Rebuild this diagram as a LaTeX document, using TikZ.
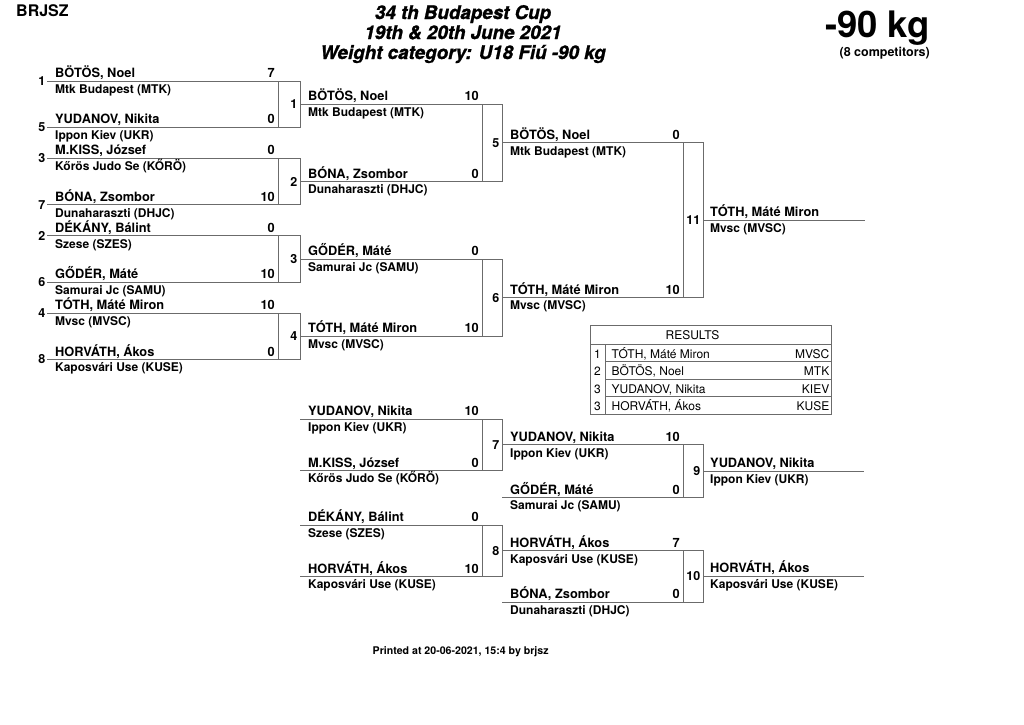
\documentclass[tikz,border=0pt]{standalone}
\usepackage{fontspec}
\setmainfont{TeX Gyre Heros}
\newfontfamily\ttlfont{TeX Gyre Heros}[BoldItalicFeatures={FakeBold=1.2}]
\definecolor{lin}{gray}{0.42}
\tikzset{
 bline/.style={draw=lin,line width=0.9pt},
 pname/.style={anchor=base west,inner sep=0pt,font=\bfseries\fontsize{12.8}{14}\selectfont},
 pscore/.style={anchor=base east,inner sep=0pt,font=\bfseries\fontsize{12.8}{14}\selectfont},
 pclub/.style={anchor=base west,inner sep=0pt,font=\bfseries\fontsize{12}{14}\selectfont},
 mnum/.style={anchor=east,inner sep=0pt,font=\bfseries\fontsize{12.5}{14}\selectfont},
 seednum/.style={anchor=east,inner sep=0pt,font=\bfseries\fontsize{12.5}{14}\selectfont},
 rtxt/.style={inner sep=0pt,font=\fontsize{12}{14}\selectfont},
 ttl/.style={anchor=base,inner sep=0pt,font=\ttlfont\bfseries\itshape\fontsize{18.8}{20}\selectfont},
}
% id, x1, box left, x2, y, name, score, club
\newcommand\plline[8]{%
 \coordinate (#1s) at (#2,#5);
 \coordinate (#1e) at (#4,#5);
 \draw[bline] (#1s) -- (#1e);
 \node[pname] (#1n) at (#2+8,#5-3.5) {#6};
 \node[pscore] (#1p) at (#3-3,#5-3.5) {#7};
 \node[pclub] (#1k) at (#2+8,#5+12.3) {#8};
}
% id, x1, x2, y, name, club
\newcommand\winline[6]{%
 \coordinate (#1s) at (#2,#4);
 \coordinate (#1e) at (#3,#4);
 \draw[bline] (#1s) -- (#1e);
 \node[pname] (#1n) at (#2+7,#4-3.5) {#5};
 \node[pclub] (#1k) at (#2+7,#4+12.3) {#6};
}
% id, xl, xr, ytop, ybot, number
\newcommand\matchbx[6]{%
 \coordinate (#1tl) at (#2,#4);
 \coordinate (#1br) at (#3,#5);
 \draw[bline] (#1tl) rectangle (#1br);
 \node[mnum] (#1) at (#3-2.5,{(#4+#5)/2}) {#6};
}
\begin{document}
\begin{tikzpicture}[x=1pt,y=-1pt]
\fill[white] (0,0) rectangle (1024,724);
\useasboundingbox (0,0) rectangle (1024,724);

% header
\node[anchor=west,inner sep=0pt,font=\bfseries\fontsize{16}{18}\selectfont] (org) at (16,11) {BRJSZ};
\node[ttl] (t1) at (463,19) {34 th Budapest Cup};
\node[ttl] (t2) at (463,39) {19th \& 20th June 2021};
\node[ttl] (t3) at (463,59) {Weight category: U18 Fiú -90 kg};
\node[anchor=base east,inner sep=0pt,font=\bfseries\fontsize{36.5}{38}\selectfont] (wcat) at (930,37) {-90 kg};
\node[anchor=base east,inner sep=0pt,font=\bfseries\fontsize{12.5}{14}\selectfont] (ncomp) at (930,56) {(8 competitors)};

% round 1
\plline{p1}{47}{278}{300}{81}{BÖTÖS, Noel}{7}{Mtk Budapest (MTK)}
\plline{p2}{47}{278}{300}{127.3}{YUDANOV, Nikita}{0}{Ippon Kiev (UKR)}
\plline{p3}{47}{278}{300}{158.4}{M.KISS, József}{0}{Kőrös Judo Se (KŐRÖ)}
\plline{p4}{47}{278}{300}{204.7}{BÓNA, Zsombor}{10}{Dunaharaszti (DHJC)}
\plline{p5}{47}{278}{300}{235.8}{DÉKÁNY, Bálint}{0}{Szese (SZES)}
\plline{p6}{47}{278}{300}{282.1}{GŐDÉR, Máté}{10}{Samurai Jc (SAMU)}
\plline{p7}{47}{278}{300}{313.2}{TÓTH, Máté Miron}{10}{Mvsc (MVSC)}
\plline{p8}{47}{278}{300}{359.5}{HORVÁTH, Ákos}{0}{Kaposvári Use (KUSE)}
\node[seednum] (s1) at (45.5,81) {1};
\node[seednum] (s5) at (45.5,127.3) {5};
\node[seednum] (s3) at (45.5,158.4) {3};
\node[seednum] (s7) at (45.5,204.7) {7};
\node[seednum] (s2) at (45.5,235.8) {2};
\node[seednum] (s6) at (45.5,282.1) {6};
\node[seednum] (s4) at (45.5,313.2) {4};
\node[seednum] (s8) at (45.5,359.5) {8};
\matchbx{m1}{278}{300}{81}{127.3}{1}
\matchbx{m2}{278}{300}{158.4}{204.7}{2}
\matchbx{m3}{278}{300}{235.8}{282.1}{3}
\matchbx{m4}{278}{300}{313.2}{359.5}{4}

% round 2
\plline{q1}{300}{482}{502}{104.15}{BÖTÖS, Noel}{10}{Mtk Budapest (MTK)}
\plline{q2}{300}{482}{502}{181.55}{BÓNA, Zsombor}{0}{Dunaharaszti (DHJC)}
\plline{q3}{300}{482}{502}{258.95}{GŐDÉR, Máté}{0}{Samurai Jc (SAMU)}
\plline{q4}{300}{482}{502}{336.35}{TÓTH, Máté Miron}{10}{Mvsc (MVSC)}
\matchbx{m5}{482}{502}{104.15}{181.55}{5}
\matchbx{m6}{482}{502}{258.95}{336.35}{6}

% round 3 and final
\plline{r1}{502}{683}{703}{142.85}{BÖTÖS, Noel}{0}{Mtk Budapest (MTK)}
\plline{r2}{502}{683}{703}{297.65}{TÓTH, Máté Miron}{10}{Mvsc (MVSC)}
\matchbx{m11}{683}{703}{142.85}{297.65}{11}
\winline{f1}{703}{865}{220.25}{TÓTH, Máté Miron}{Mvsc (MVSC)}

% repechage
\plline{u1}{300}{482}{502}{419}{YUDANOV, Nikita}{10}{Ippon Kiev (UKR)}
\plline{u2}{300}{482}{502}{470.5}{M.KISS, József}{0}{Kőrös Judo Se (KŐRÖ)}
\plline{u3}{300}{482}{502}{525}{DÉKÁNY, Bálint}{0}{Szese (SZES)}
\plline{u4}{300}{482}{502}{576.5}{HORVÁTH, Ákos}{10}{Kaposvári Use (KUSE)}
\matchbx{m7}{482}{502}{419}{470.5}{7}
\matchbx{m8}{482}{502}{525}{576.5}{8}
\plline{v1}{502}{683}{703}{444.75}{YUDANOV, Nikita}{10}{Ippon Kiev (UKR)}
\plline{v2}{502}{683}{703}{497.5}{GŐDÉR, Máté}{0}{Samurai Jc (SAMU)}
\plline{v3}{502}{683}{703}{550.75}{HORVÁTH, Ákos}{7}{Kaposvári Use (KUSE)}
\plline{v4}{502}{683}{703}{602}{BÓNA, Zsombor}{0}{Dunaharaszti (DHJC)}
\matchbx{m9}{683}{703}{444.75}{497.5}{9}
\matchbx{m10}{683}{703}{550.75}{602}{10}
\winline{w1}{703}{864}{471.1}{YUDANOV, Nikita}{Ippon Kiev (UKR)}
\winline{w2}{703}{864}{576.4}{HORVÁTH, Ákos}{Kaposvári Use (KUSE)}

% results table
\coordinate (rtl) at (590,325);
\coordinate (rbr) at (831,414);
\draw[bline] (rtl) rectangle (rbr);
\draw[bline] (590,344) -- (831,344);
\draw[bline] (605,344) -- (605,414);
\draw[bline] (605,361.5) -- (831,361.5);
\draw[bline] (605,379) -- (831,379);
\draw[bline] (605,396.5) -- (831,396.5);
\node[rtxt,anchor=base] (rhead) at (692.5,339.5) {RESULTS};
\node[rtxt,anchor=base] (rn1) at (597.5,358) {1};
\node[rtxt,anchor=base west] (rp1) at (611.5,358) {TÓTH, Máté Miron};
\node[rtxt,anchor=base east] (rc1) at (829.5,358) {MVSC};
\node[rtxt,anchor=base] (rn2) at (597.5,375.5) {2};
\node[rtxt,anchor=base west] (rp2) at (611.5,375.5) {BÖTÖS, Noel};
\node[rtxt,anchor=base east] (rc2) at (829.5,375.5) {MTK};
\node[rtxt,anchor=base] (rn3) at (597.5,393) {3};
\node[rtxt,anchor=base west] (rp3) at (611.5,393) {YUDANOV, Nikita};
\node[rtxt,anchor=base east] (rc3) at (829.5,393) {KIEV};
\node[rtxt,anchor=base] (rn4) at (597.5,410.5) {3};
\node[rtxt,anchor=base west] (rp4) at (611.5,410.5) {HORVÁTH, Ákos};
\node[rtxt,anchor=base east] (rc4) at (829.5,410.5) {KUSE};

% footer
\node[anchor=base west,inner sep=0pt,font=\bfseries\fontsize{10.6}{12}\selectfont] (foot) at (372.5,654) {Printed at 20-06-2021, 15:4 by brjsz};
\end{tikzpicture}
\end{document}
